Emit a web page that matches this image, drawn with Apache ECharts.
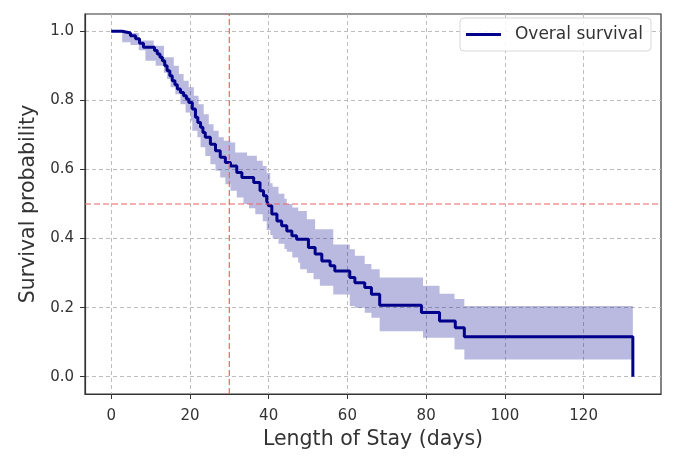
<!DOCTYPE html>
<html style="height: 100%">
<head>
    <meta charset="utf-8">
</head>
<body style="height: 100%; margin: 0; background: #fff">
    <div id="container" style="width: 679px; height: 458px"></div>
    <script type="text/javascript" src="https://cdn.jsdelivr.net/npm/echarts@6/dist/echarts.min.js"></script>
    <script type="text/javascript">
        // Kaplan-Meier estimate (value holds from each day until the next one)
        var days = [0, 2.8, 4.9, 6.2, 7.2, 8.2, 11.0, 11.7, 12.4, 13.0,
            13.6, 14.2, 14.9, 15.5, 16.2, 16.8, 17.6, 18.4, 19.1, 19.7,
            20.6, 21.4, 22.0, 22.7, 23.3, 23.9, 25.2, 26.5, 27.7, 29.0,
            30.3, 31.9, 33.2, 36.2, 37.8, 38.7, 39.5, 40.0, 40.8, 42.1,
            43.3, 44.6, 45.9, 47.1, 50.1, 51.8, 53.5, 55.6, 56.8, 60.6,
            61.9, 64.4, 66.1, 68.2, 78.8, 83.4, 87.4, 89.7, 132.5];
        var survival = [1.0, 0.995, 0.987, 0.978, 0.965, 0.954, 0.944, 0.934, 0.925, 0.915,
            0.900, 0.886, 0.871, 0.857, 0.845, 0.833, 0.823, 0.813, 0.804, 0.794,
            0.775, 0.751, 0.736, 0.722, 0.707, 0.693, 0.673, 0.654, 0.635, 0.620,
            0.610, 0.591, 0.577, 0.562, 0.538, 0.524, 0.509, 0.495, 0.471, 0.451,
            0.437, 0.422, 0.408, 0.398, 0.374, 0.355, 0.335, 0.321, 0.306, 0.287,
            0.272, 0.258, 0.239, 0.207, 0.186, 0.161, 0.142, 0.116, 0.0];

        // confidence interval
        var ciDays = [0, 2.8, 4.9, 7.0, 8.7, 10.8, 11.3, 13.4, 14.2, 15.1,
            15.9, 16.3, 17.2, 17.6, 18.4, 18.9, 19.7, 20.2, 20.6, 21.0,
            21.9, 22.2, 22.7, 23.5, 23.9, 24.8, 25.2, 26.0, 26.5, 27.3,
            27.7, 28.6, 29.0, 30.3, 31.5, 31.9, 33.6, 34.5, 35.0, 36.6,
            37.0, 38.5, 39.5, 40.4, 41.0, 42.5, 44.0, 44.6, 46.0, 47.5,
            48.0, 49.7, 51.4, 51.8, 53.0, 56.4, 60.6, 61.9, 64.4, 66.1,
            68.2, 79.2, 83.4, 87.2, 89.7, 132.5];
        var ciUpper = [1.0, 1.0, 0.995, 0.973, 0.973, 0.958, 0.958, 0.925, 0.925, 0.925,
            0.900, 0.900, 0.876, 0.876, 0.857, 0.857, 0.838, 0.838, 0.838, 0.813,
            0.813, 0.789, 0.789, 0.760, 0.760, 0.731, 0.731, 0.712, 0.712, 0.693,
            0.693, 0.683, 0.683, 0.678, 0.649, 0.649, 0.649, 0.640, 0.640, 0.640,
            0.625, 0.610, 0.590, 0.560, 0.550, 0.530, 0.515, 0.500, 0.490, 0.480,
            0.480, 0.456, 0.456, 0.427, 0.427, 0.383, 0.369, 0.350, 0.326, 0.311,
            0.287, 0.263, 0.240, 0.225, 0.205, 0.205];
        var ciLower = [1.0, 0.968, 0.960, 0.945, 0.915, 0.915, 0.900, 0.880, 0.862, 0.838,
            0.838, 0.818, 0.818, 0.789, 0.789, 0.765, 0.765, 0.741, 0.712, 0.712,
            0.693, 0.693, 0.664, 0.664, 0.639, 0.639, 0.615, 0.615, 0.596, 0.596,
            0.577, 0.577, 0.557, 0.538, 0.538, 0.519, 0.500, 0.500, 0.488, 0.470,
            0.470, 0.450, 0.425, 0.410, 0.400, 0.385, 0.370, 0.362, 0.345, 0.330,
            0.311, 0.300, 0.282, 0.282, 0.263, 0.238, 0.205, 0.200, 0.185, 0.171,
            0.132, 0.113, 0.113, 0.079, 0.050, 0.050];

        var xTicks = [0, 20, 40, 60, 80, 100, 120];
        var yTicks = [0, 0.2, 0.4, 0.6, 0.8, 1.0];
        var xRange = [-6.65, 139.65];
        var yRange = [-0.05, 1.05];
        var refDay = 30;
        var refProb = 0.5;

        var lineData = days.map(function (d, i) { return [d, survival[i]]; });
        var ciData = ciDays.map(function (d, i) { return [d, ciUpper[i], ciLower[i]]; });

        var dom = document.getElementById("container");
        var myChart = echarts.init(dom, null, { renderer: 'canvas' });
        var font = 'DejaVu Sans';
        var gridLine = { show: true, lineStyle: { color: '#bdbdbd', type: [4, 3], width: 1 } };
        var refColor = '#f06262';

        var option = {
            animation: false,
            backgroundColor: '#fff',
            textStyle: { fontFamily: font },
            grid: {
                left: 85, right: 18, top: 14, bottom: 64,
                show: true, borderColor: '#333', borderWidth: 1.2, backgroundColor: 'transparent'
            },
            legend: {
                right: 28, top: 18,
                data: [{ name: 'Overal survival', icon: 'rect' }],
                itemWidth: 35, itemHeight: 3,
                backgroundColor: 'rgba(255,255,255,0.85)',
                borderColor: '#d8d8d8', borderWidth: 1, borderRadius: 4,
                padding: [8, 8, 8, 6],
                textStyle: { fontFamily: font, fontSize: 17, color: '#333', padding: [0, 0, 0, 9] }
            },
            xAxis: {
                type: 'value', min: xRange[0], max: xRange[1],
                name: 'Length of Stay (days)', nameLocation: 'middle', nameGap: 35,
                nameTextStyle: { fontFamily: font, fontSize: 20.5, color: '#333' },
                axisLine: { show: true, onZero: false, lineStyle: { color: '#333', width: 1.2 } },
                axisTick: { show: true, length: 5, customValues: xTicks, lineStyle: { color: '#333' } },
                axisLabel: { customValues: xTicks, margin: 15, fontSize: 15, color: '#333', fontFamily: font },
                splitLine: gridLine
            },
            yAxis: {
                type: 'value', min: yRange[0], max: yRange[1],
                name: 'Survival probability', nameLocation: 'middle', nameGap: 42,
                nameTextStyle: { fontFamily: font, fontSize: 20.5, color: '#333' },
                axisLine: { show: true, onZero: false, lineStyle: { color: '#333', width: 1.2 } },
                axisTick: { show: true, length: 5, customValues: yTicks, lineStyle: { color: '#333' } },
                axisLabel: {
                    customValues: yTicks, margin: 11, fontSize: 15, color: '#333', fontFamily: font,
                    formatter: function (v) { return v.toFixed(1); }
                },
                splitLine: gridLine
            },
            series: [
                {
                    name: 'ci',
                    type: 'custom',
                    silent: true,
                    data: ciData,
                    encode: { x: 0, y: [1, 2] },
                    renderItem: function (params, api) {
                        if (params.dataIndex !== 0) return;
                        var n = ciDays.length;
                        var pts = [];
                        for (var i = 0; i < n; i++) {
                            var next = i + 1 < n ? ciDays[i + 1] : ciDays[i];
                            pts.push(api.coord([ciDays[i], ciUpper[i]]));
                            pts.push(api.coord([next, ciUpper[i]]));
                        }
                        for (var j = n - 1; j >= 0; j--) {
                            var nx = j + 1 < n ? ciDays[j + 1] : ciDays[j];
                            pts.push(api.coord([nx, ciLower[j]]));
                            pts.push(api.coord([ciDays[j], ciLower[j]]));
                        }
                        return {
                            type: 'polygon',
                            shape: { points: pts },
                            style: { fill: 'rgba(0,0,139,0.27)', stroke: null }
                        };
                    },
                    z: 1
                },
                {
                    name: 'Overal survival',
                    type: 'line',
                    step: 'end',
                    data: lineData,
                    symbol: 'none',
                    lineStyle: { color: '#00008b', width: 3 },
                    itemStyle: { color: '#00008b' },
                    z: 3
                },
                {
                    // vertical reference: 30 days
                    name: 'ref-day',
                    type: 'line',
                    silent: true,
                    data: [[refDay, yRange[0]], [refDay, yRange[1]]],
                    symbol: 'none',
                    lineStyle: { color: refColor, type: [6, 3], width: 1.2 },
                    itemStyle: { color: refColor },
                    z: 4
                },
                {
                    // horizontal reference: 50 % survival
                    name: 'ref-prob',
                    type: 'line',
                    silent: true,
                    data: [[xRange[0], refProb], [xRange[1], refProb]],
                    symbol: 'none',
                    lineStyle: { color: refColor, type: [6, 3], width: 1.2 },
                    itemStyle: { color: refColor },
                    z: 4
                }
            ]
        };

        myChart.setOption(option);
    </script>
</body>
</html>
